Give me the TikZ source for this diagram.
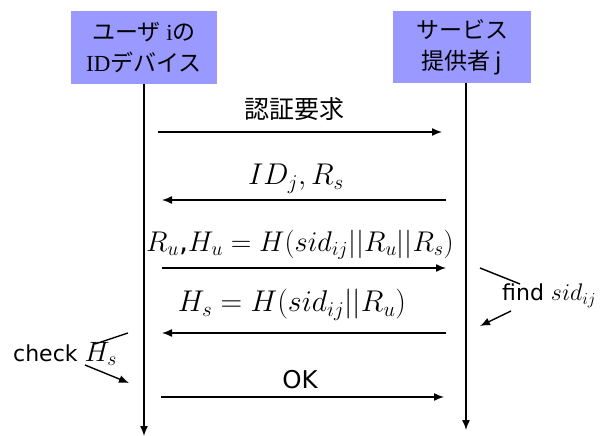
\RequirePackage{fix-cm}
\documentclass[tikz,border=0pt]{standalone}
\usepackage{fontspec}
\setmainfont{DejaVu Sans}
\newfontfamily\jpfont{Noto Sans CJK JP}
\newfontfamily\serifl{Liberation Serif}
\usetikzlibrary{arrows.meta}
\definecolor{actorfill}{RGB}{153,153,255}
\newcommand{\msize}[1]{\fontsize{#1}{#1}\selectfont}
\begin{document}
\begin{tikzpicture}[x=1pt,y=-1pt,
  actor/.style={fill=actorfill, draw=none, inner sep=0pt, align=center,
    font=\jpfont\fontsize{23}{31}\selectfont},
  msg/.style={line width=1.4pt, -{Latex[length=10pt,width=8pt]}},
  life/.style={line width=1.4pt, -{Latex[length=10pt,width=8pt]}},
  note/.style={line width=1.4pt},
  mlbl/.style={inner sep=0pt, font=\msize{30}},
  jlbl/.style={inner sep=0pt, font=\jpfont\fontsize{25}{28}\selectfont},
  slbl/.style={inner sep=0pt, font=\fontsize{22}{25}\selectfont},
]
\useasboundingbox (0,0) rectangle (611,436);

% actors
\node[actor, minimum width=146pt, minimum height=73pt] (u) at (144,47.5)
  {ユーザ{\serifl\ i}の\\{\serifl ID}デバイス};
\node[actor, minimum width=138pt, minimum height=72pt] (s) at (462,47)
  {サービス\\提供者 j};

% lifelines
\coordinate (utop) at (144,84);
\coordinate (ubot) at (144,436);
\coordinate (stop) at (466,83);
\coordinate (sbot) at (466,430);
\draw[life] (utop) -- (ubot);
\draw[life] (stop) -- (sbot);

% message endpoints
\coordinate (m1a) at (158,132); \coordinate (m1b) at (442,132);
\coordinate (m2a) at (446,200); \coordinate (m2b) at (162,200);
\coordinate (m3a) at (162,268); \coordinate (m3b) at (446,268);
\coordinate (m4a) at (446,333); \coordinate (m4b) at (162,333);
\coordinate (m5a) at (161,397); \coordinate (m5b) at (444,397);

\draw[msg] (m1a) -- (m1b);
\draw[msg] (m2a) -- (m2b);
\draw[msg] (m3a) -- (m3b);
\draw[msg] (m4a) -- (m4b);
\draw[msg] (m5a) -- (m5b);

% labels
\node[jlbl] (l1) at (294,109) {認証要求};
\node[mlbl] (l2) at (296,179) {$ID_j, R_s$};
\node[mlbl, font=\msize{28.5}] (l3) at (300,245) {$R_u$,$H_u = H(sid_{ij}||R_u||R_s)$};
\node[mlbl] (l4) at (292,305) {$H_s = H(sid_{ij}||R_u)$};
\node[slbl, font=\fontsize{24.5}{28}\selectfont] (l5) at (300,380) {OK};

% find sid_ij
\coordinate (f1) at (480,268); \coordinate (f2) at (520,284);
\draw[note] (f1) -- (f2);
\node[slbl, anchor=west] (find) at (502,296) {find {\msize{24}$sid_{ij}$}};
\coordinate (f3) at (511,311); \coordinate (f4) at (480,326);
\draw[msg] (f3) -- (f4);

% check H_s
\coordinate (c1) at (128,333); \coordinate (c2) at (95,344);
\draw[note] (c1) -- (c2);
\node[slbl, anchor=west] (check) at (13,354) {check {\msize{28}$H_s$}};
\coordinate (c3) at (85,365); \coordinate (c4) at (129,383);
\draw[msg] (c3) -- (c4);
\end{tikzpicture}
\end{document}
